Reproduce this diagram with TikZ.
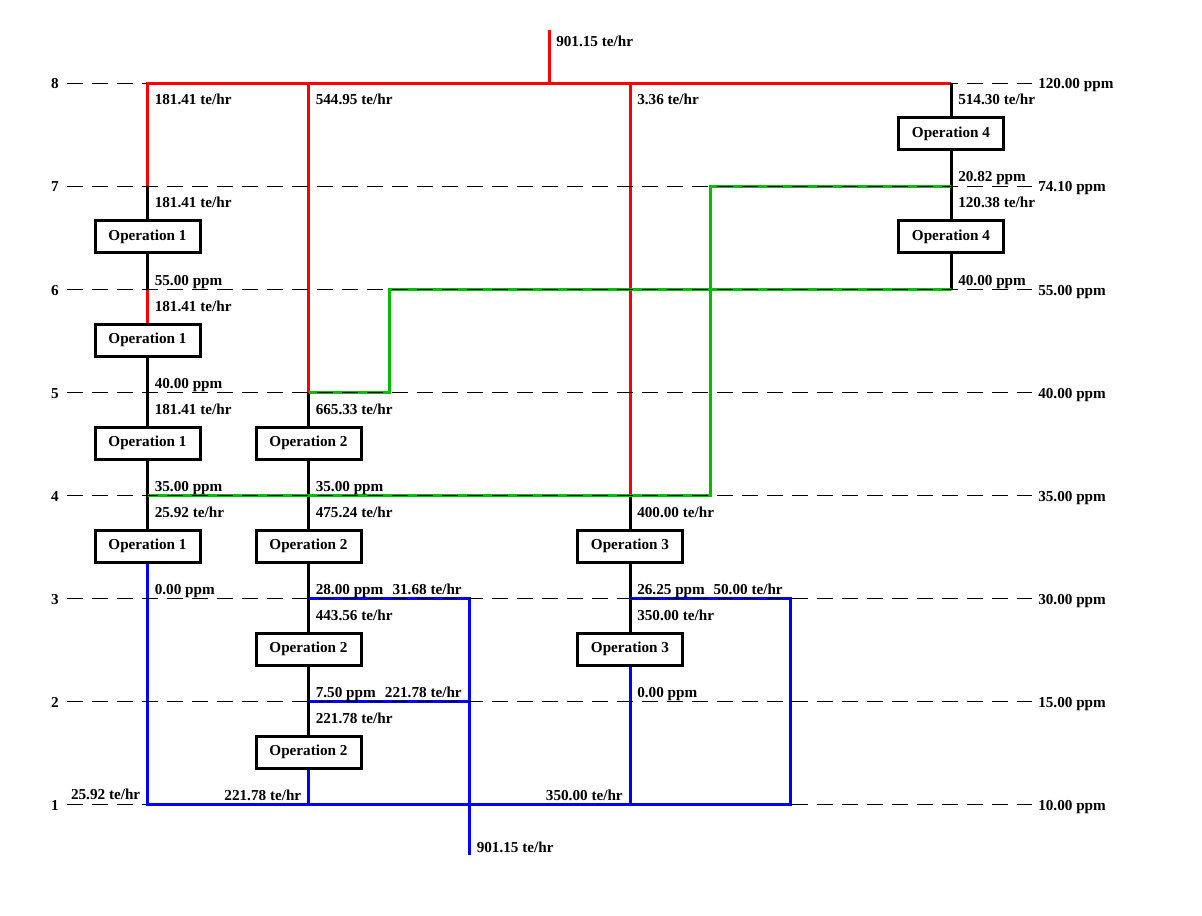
\documentclass[tikz,border=0pt]{standalone}
\usepackage{fontspec}
\setmainfont{Liberation Serif}
\definecolor{pred}{RGB}{255,0,0}
\definecolor{pgreen}{RGB}{0,190,0}
\definecolor{pblue}{RGB}{0,0,255}
\tikzset{
  flow/.style={line width=2.25pt},
  redf/.style={flow, draw=pred},
  greenf/.style={flow, draw=pgreen},
  bluef/.style={flow, draw=pblue},
  blackf/.style={flow, draw=black},
  lev/.style={line width=0.75pt, dash pattern=on 12pt off 6.75pt},
  txt/.style={font=\fontsize{11.4}{13}\selectfont\bfseries},
  op/.style={txt, draw, line width=2.25pt, fill=white, minimum width=78.75pt, minimum height=24pt, inner sep=0pt},
  lab/.style={txt, inner sep=0pt, anchor=base west},
  labr/.style={txt, inner sep=0pt, anchor=base east},
  labc/.style={txt, inner sep=0pt, anchor=base},
}
\begin{document}
\begin{tikzpicture}[x=0.75pt,y=-0.75pt]
\useasboundingbox (0,0) rectangle (1202,916);
% levels
\foreach \n/\y in {8/83.5,7/186.5,6/289.5,5/392.5,4/495.5,3/598.5,2/701.5,1/804.5}{
  \coordinate (l\n-s) at (67,\y);
  \coordinate (l\n-e) at (1032,\y);
  \coordinate (c1-\n) at (147.5,\y);
  \coordinate (c2-\n) at (308.5,\y);
  \coordinate (c3-\n) at (630,\y);
  \coordinate (c4-\n) at (951,\y);
}
\coordinate (g1-6) at (389,289.5);
\coordinate (g1-5) at (389,392.5);
\coordinate (g2-7) at (710,186.5);
\coordinate (g2-4) at (710,495.5);
\coordinate (b1-3) at (469.5,598.5);
\coordinate (b1-2) at (469.5,701.5);
\coordinate (b1-bot) at (469.5,855);
\coordinate (b2-3) at (790.5,598.5);
\coordinate (b2-1) at (790.5,804.5);
\coordinate (rtop) at (549,30);
\coordinate (rmid) at (549,83.5);

% dashed level lines under the flows
\draw[lev] (l8-s) -- (l8-e);
\draw[lev] (l1-s) -- (l1-e);

% operation boxes
\node[op] (op1a) at (147.5,237) {Operation 1};
\node[op] (op1b) at (147.5,340) {Operation 1};
\node[op] (op1c) at (147.5,443) {Operation 1};
\node[op] (op1d) at (147.5,546) {Operation 1};
\node[op] (op2a) at (308.5,443) {Operation 2};
\node[op] (op2b) at (308.5,546) {Operation 2};
\node[op] (op2c) at (308.5,649) {Operation 2};
\node[op] (op2d) at (308.5,752) {Operation 2};
\node[op] (op3a) at (630,546) {Operation 3};
\node[op] (op3b) at (630,649) {Operation 3};
\node[op] (op4a) at (951,134) {Operation 4};
\node[op] (op4b) at (951,237) {Operation 4};

% flows
\begin{scope}[on background layer/.style={}]
\draw[redf] (rtop) -- (rmid);
\draw[redf] (c1-7) -- (c1-8) -- (c4-8);
\draw[redf] (c2-8) -- (c2-5);
\draw[redf] (c3-8) -- (c3-4);
\draw[redf] (c1-6) -- (op1b.north);

\draw[blackf] (c1-7) -- (op1a.north);
\draw[blackf] (op1a.south) -- (c1-6);
\draw[blackf] (op1b.south) -- (op1c.north);
\draw[blackf] (op1c.south) -- (op1d.north);
\draw[blackf] (c2-5) -- (op2a.north);
\draw[blackf] (op2a.south) -- (op2b.north);
\draw[blackf] (op2b.south) -- (op2c.north);
\draw[blackf] (op2c.south) -- (op2d.north);
\draw[blackf] (c3-4) -- (op3a.north);
\draw[blackf] (op3a.south) -- (op3b.north);
\draw[blackf] (c4-8) -- (op4a.north);
\draw[blackf] (op4a.south) -- (op4b.north);
\draw[blackf] (op4b.south) -- (c4-6);

\draw[greenf] (c4-6) -- (g1-6) -- (g1-5) -- (c2-5);
\draw[greenf] (c4-7) -- (g2-7) -- (g2-4) -- (c1-4);

\draw[bluef] (op1d.south) -- (c1-1) -- (b2-1) -- (b2-3) -- (c3-3);
\draw[bluef] (op2d.south) -- (c2-1);
\draw[bluef] (op3b.south) -- (c3-1);
\draw[bluef] (c2-3) -- (b1-3) -- (b1-bot);
\draw[bluef] (c2-2) -- (b1-2);
\end{scope}

% dashed level lines over the flows
\foreach \n in {7,6,5,4,3,2}{
  \draw[lev] (l\n-s) -- (l\n-e);
}

% level numbers and concentrations
\foreach \n/\y/\c in {8/89/120.00,7/192/74.10,6/295/55.00,5/398/40.00,4/501/35.00,3/604/30.00,2/707/15.00,1/810/10.00}{
  \node[labc] (num\n) at (55,\y) {\n};
  \node[lab] (ppm\n) at (1038,\y) {\c\ ppm};
}

% column 1 labels
\node[lab] (t1a) at (154.5,105) {181.41 te/hr};
\node[lab] (t1b) at (154.5,208) {181.41 te/hr};
\node[lab] (t1c) at (154.5,285) {55.00 ppm};
\node[lab] (t1d) at (154.5,311) {181.41 te/hr};
\node[lab] (t1e) at (154.5,388) {40.00 ppm};
\node[lab] (t1f) at (154.5,414) {181.41 te/hr};
\node[lab] (t1g) at (154.5,491) {35.00 ppm};
\node[lab] (t1h) at (154.5,517) {25.92 te/hr};
\node[lab] (t1i) at (154.5,594) {0.00 ppm};
\node[labr] (t1j) at (140.5,799.5) {25.92 te/hr};

% column 2 labels
\node[lab] (t2a) at (315.5,105) {544.95 te/hr};
\node[lab] (t2b) at (315.5,414) {665.33 te/hr};
\node[lab] (t2c) at (315.5,491) {35.00 ppm};
\node[lab] (t2d) at (315.5,517) {475.24 te/hr};
\node[lab] (t2e) at (315.5,594) {28.00 ppm};
\node[labr] (t2f) at (462,594) {31.68 te/hr};
\node[lab] (t2g) at (315.5,620) {443.56 te/hr};
\node[lab] (t2h) at (315.5,697) {7.50 ppm};
\node[labr] (t2i) at (462,697) {221.78 te/hr};
\node[lab] (t2j) at (315.5,723) {221.78 te/hr};
\node[labr] (t2k) at (301.5,800) {221.78 te/hr};

% column 3 labels
\node[lab] (t3a) at (637,105) {3.36 te/hr};
\node[lab] (t3b) at (637,517) {400.00 te/hr};
\node[lab] (t3c) at (637,594) {26.25 ppm};
\node[labr] (t3d) at (783,594) {50.00 te/hr};
\node[lab] (t3e) at (637,620) {350.00 te/hr};
\node[lab] (t3f) at (637,697) {0.00 ppm};
\node[labr] (t3g) at (623,800) {350.00 te/hr};

% column 4 labels
\node[lab] (t4a) at (958,105) {514.30 te/hr};
\node[lab] (t4b) at (958,182) {20.82 ppm};
\node[lab] (t4c) at (958,208) {120.38 te/hr};
\node[lab] (t4d) at (958,285) {40.00 ppm};

% source and sink
\node[lab] (src) at (556,46.5) {901.15 te/hr};
\node[lab] (snk) at (476.5,852.5) {901.15 te/hr};
\end{tikzpicture}
\end{document}
